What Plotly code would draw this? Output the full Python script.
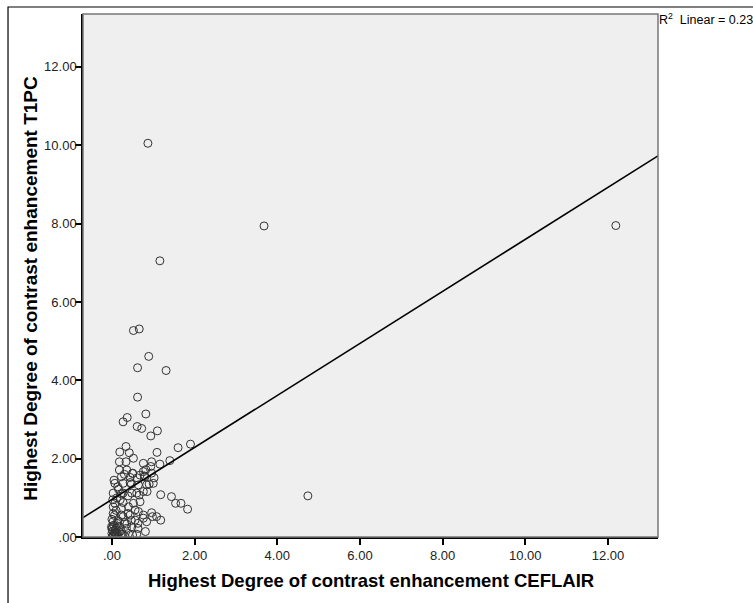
import plotly.graph_objects as go
import numpy as np

# Scatter data (CEFLAIR vs T1PC)
ceflair = [0.87, 3.68, 12.19, 1.16, 4.74,
           0.52, 0.66, 0.89, 0.62, 1.31,
           0.62, 0.82, 0.37, 0.27, 0.61, 0.72, 1.10, 0.94,
           1.90, 1.60, 0.34, 0.19, 0.42, 1.09, 0.52, 0.18, 0.34, 1.40,
           0.76, 0.96, 1.16, 0.94, 0.18, 0.36, 0.76, 0.82,
           0.23, 0.44, 0.61, 1.02, 0.78, 0.30, 0.50,
           0.07, 0.27, 0.44, 0.64, 0.84, 1.00, 0.47, 0.90,
           0.03, 0.27, 0.48, 0.66, 0.85, 0.23, 0.39, 0.60, 0.76,
           1.18, 1.44, 1.54, 1.67, 1.83,
           0.07, 0.27, 0.52, 0.68, 0.03, 0.23, 0.40, 0.56,
           0.03, 0.23, 0.39, 0.64, 0.76, 0.27, 0.44,
           0.96, 1.08, 1.18, 0.98, 0.84, 0.76,
           0.03, 0.15, 0.31, 0.47, 0.63, 0.56,
           -0.01, 0.19, 0.36, 0.48, 0.63, 0.81, 0.10, 0.35,
           0.00, 0.11, 0.23, 0.40, 0.05, 0.15, 0.30, 0.50, 0.60,
           0.00, 0.02, 0.04, 0.08, 0.12, 0.00, 0.06, 0.10, 0.02, 0.12, 0.16, 0.05,
           0.50, 0.68, 0.80, 0.96, 0.14, 0.20, 0.08, 0.00,
           0.03, 0.09, 0.18, 0.26, 0.01, 0.07, 0.13, 0.22]
t1pc = [10.05, 7.94, 7.95, 7.05, 1.05,
        5.27, 5.31, 4.61, 4.32, 4.25,
        3.57, 3.14, 3.05, 2.94, 2.82, 2.77, 2.71, 2.58,
        2.37, 2.28, 2.31, 2.17, 2.15, 2.16, 2.01, 1.92, 1.92, 1.95,
        1.88, 1.92, 1.86, 1.80, 1.71, 1.71, 1.67, 1.72,
        1.54, 1.52, 1.51, 1.51, 1.56, 1.60, 1.62,
        1.37, 1.37, 1.39, 1.33, 1.33, 1.37, 1.35, 1.35,
        1.12, 1.12, 1.12, 1.07, 1.16, 1.10, 1.05, 1.12, 1.16,
        1.08, 1.03, 0.86, 0.86, 0.71,
        0.86, 0.88, 0.86, 0.90, 0.77, 0.73, 0.77, 0.69,
        0.60, 0.56, 0.60, 0.65, 0.56, 0.52, 0.56,
        0.62, 0.52, 0.43, 0.52, 0.39, 0.48,
        0.40, 0.42, 0.37, 0.42, 0.35, 0.43,
        0.26, 0.26, 0.33, 0.26, 0.22, 0.14, 0.22, 0.22,
        0.09, 0.09, 0.08, 0.09, 0.04, 0.02, 0.04, 0.05, 0.07,
        0.00, 0.15, 0.30, 0.18, 0.35, 0.45, 0.55, 0.68, 0.95, 1.00, 1.22, 1.45,
        1.63, 1.58, 1.54, 1.63, 1.28, 0.95, 0.12, 0.20,
        0.05, 0.02, 0.13, 0.06, 0.24, 0.10, 0.28, 0.16]

fit_intercept = 0.958
fit_slope = 0.664
r2_label = "R<sup>2</sup>  Linear = 0.233"

x_ticks = [0, 2, 4, 6, 8, 10, 12]
x_tick_text = [".00", "2.00", "4.00", "6.00", "8.00", "10.00", "12.00"]
y_ticks = [0, 2, 4, 6, 8, 10, 12]
y_tick_text = [".00", "2.00", "4.00", "6.00", "8.00", "10.00", "12.00"]

x_title = "Highest Degree of contrast enhancement CEFLAIR"
y_title = "Highest Degree of contrast enhancement T1PC"

x_range = [-0.70, 13.21]
y_range = [0, 13.35]

fig = go.Figure()
fig.add_trace(go.Scatter(
    x=ceflair, y=t1pc, mode="markers",
    marker=dict(symbol="circle-open", size=8, color="#333333", line=dict(width=1)),
    hoverinfo="x+y", showlegend=False))

lx = np.array(x_range)
fig.add_trace(go.Scatter(
    x=lx, y=fit_intercept + fit_slope * lx, mode="lines",
    line=dict(color="black", width=1.6), showlegend=False, hoverinfo="skip"))

font_family = "Liberation Sans, Arial, sans-serif"

fig.update_layout(
    width=753, height=603,
    margin=dict(l=83, r=95, t=14, b=66),
    paper_bgcolor="white", plot_bgcolor="#efefef",
    font=dict(family=font_family, color="black", size=13),
    xaxis=dict(range=x_range, tickvals=x_ticks, ticktext=x_tick_text,
               showgrid=False, zeroline=False, showline=True, linecolor="black",
               linewidth=1.5, ticks="outside", ticklen=6, tickwidth=1.5,
               tickcolor="black", tickfont=dict(size=13, color="#222")),
    yaxis=dict(range=y_range, tickvals=y_ticks, ticktext=y_tick_text,
               showgrid=False, zeroline=False, showline=True, linecolor="black",
               linewidth=1.5, ticks="outside", ticklen=6, tickwidth=1.5,
               tickcolor="black", tickfont=dict(size=13, color="#222"),
               ticklabelstandoff=-4),
    shapes=[
        dict(type="rect", xref="paper", yref="paper", x0=0, x1=1, y0=0, y1=1,
             line=dict(color="#777777", width=1.5), layer="above"),
        dict(type="rect", xref="paper", yref="paper", x0=-0.1304, x1=2.0,
             y0=-0.3, y1=1.0134, line=dict(color="black", width=1.2)),
    ],
    annotations=[
        dict(text=x_title, xref="paper", yref="paper", x=0.5, y=-0.083,
             xanchor="center", yanchor="middle", showarrow=False,
             font=dict(size=18.5, family=font_family, color="black", weight="bold")),
        dict(text=y_title, xref="paper", yref="paper", x=-0.092, y=0.475,
             xanchor="center", yanchor="middle", showarrow=False, textangle=-90,
             font=dict(size=19, family=font_family, color="black", weight="bold")),
        dict(text=r2_label, xref="paper", yref="paper", x=0.998, y=0.99,
             xanchor="left", yanchor="middle", showarrow=False,
             font=dict(size=12.5, family=font_family, color="black")),
    ],
)

fig.write_html("out.html")
